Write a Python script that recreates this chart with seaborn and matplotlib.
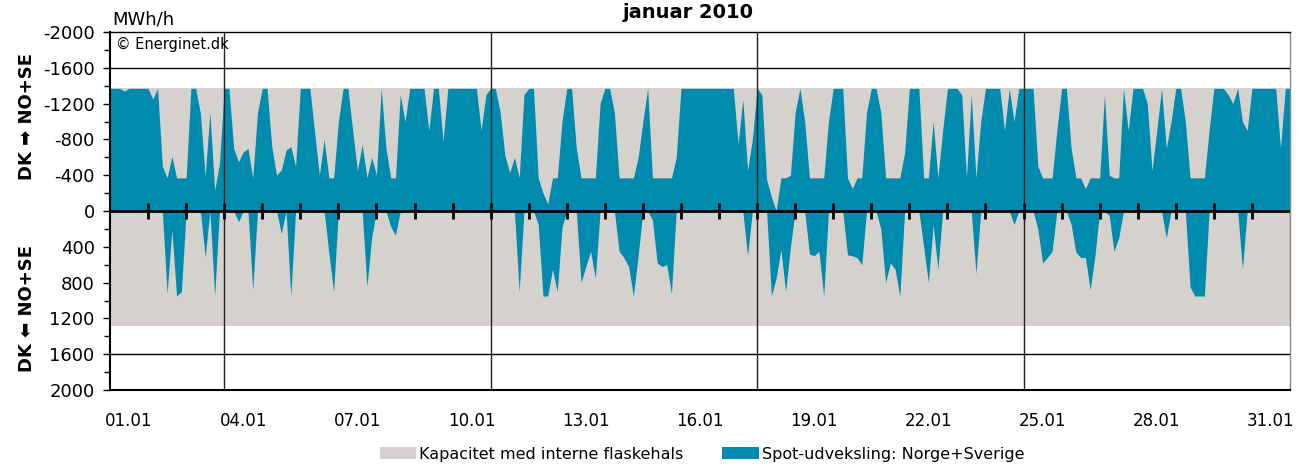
import numpy as np
import pandas as pd
import matplotlib
matplotlib.use("Agg")
import matplotlib.pyplot as plt
from matplotlib.patches import Patch
from matplotlib.ticker import MultipleLocator
import seaborn as sns


# ==========================================================
# DATA
# ==========================================================

TITLE = "januar 2010"
UNIT = "MWh/h"
SOURCE = "\u00a9 Energinet.dk"

# capacity including internal bottlenecks (MWh/h), export negative
CAP_EXPORT = -1370
CAP_IMPORT = 1290

# spot exchange DK <-> Norway+Sweden, one value every 3 hours (8 per day)
SAMPLE_HOURS = 3
export_mw = [
    -1370, -1370, -1370, -1340, -1370, -1370, -1370, -1370,  # 01.01
    -1370, -1250, -1370, -500, -370, -610, -370, -370,        # 02.01
    -370, -1370, -1370, -1090, -390, -1100, -230, -530,       # 03.01
    -1370, -1370, -700, -550, -660, -700, -370, -1100,        # 04.01
    -1370, -1370, -720, -400, -460, -680, -720, -500,         # 05.01
    -1370, -1370, -1370, -880, -400, -800, -370, -370,        # 06.01
    -1000, -1370, -1370, -900, -450, -740, -370, -600,        # 07.01
    -400, -1370, -700, -370, -370, -1300, -1000, -1370,       # 08.01
    -1370, -1370, -1370, -900, -1370, -1370, -780, -1370,     # 09.01
    -1370, -1370, -1370, -1370, -1370, -1370, -900, -1300,    # 10.01
    -1370, -1370, -1100, -620, -430, -600, -370, -1300,       # 11.01
    -1370, -1370, -370, -200, -80, -370, -370, -1000,         # 12.01
    -1370, -1370, -700, -370, -370, -370, -370, -1200,        # 13.01
    -1370, -1370, -1100, -370, -370, -370, -370, -600,        # 14.01
    -1000, -1370, -370, -370, -370, -370, -370, -600,         # 15.01
    -1370, -1370, -1370, -1370, -1370, -1370, -1370, -1370,   # 16.01
    -1370, -1370, -1370, -1370, -750, -1250, -450, -800,      # 17.01
    -1370, -1300, -350, -160, 0, -370, -370, -400,            # 18.01
    -1100, -1370, -1000, -370, -370, -370, -370, -1000,       # 19.01
    -1370, -1370, -1370, -370, -250, -370, -370, -1100,       # 20.01
    -1370, -1370, -1100, -370, -370, -370, -370, -650,        # 21.01
    -1370, -1370, -1370, -370, -370, -1000, -370, -900,       # 22.01
    -1370, -1370, -1370, -1300, -370, -1300, -370, -1000,     # 23.01
    -1370, -1370, -1370, -1370, -900, -1370, -1000, -1370,    # 24.01
    -1370, -1370, -1370, -500, -370, -370, -370, -900,        # 25.01
    -1370, -1370, -700, -370, -370, -250, -370, -370,         # 26.01
    -370, -1300, -400, -370, -370, -1370, -900, -1370,        # 27.01
    -1370, -1370, -1200, -450, -900, -1370, -700, -1000,      # 28.01
    -1370, -1370, -1000, -370, -370, -370, -370, -900,        # 29.01
    -1370, -1370, -1370, -1300, -1200, -1370, -1000, -900,    # 30.01
    -1370, -1370, -1370, -1370, -1370, -1370, -700, -1370,    # 31.01
    -1370,
]
import_mw = [
    0, 0, 0, 0, 0, 0, 0, 0,              # 01.01
    0, 0, 0, 0, 920, 210, 950, 900,      # 02.01
    0, 0, 0, 0, 510, 0, 950, 0,          # 03.01
    0, 0, 0, 120, 0, 0, 880, 0,          # 04.01
    0, 0, 0, 0, 250, 0, 950, 0,          # 05.01
    0, 0, 0, 0, 0, 0, 470, 900,          # 06.01
    0, 0, 0, 0, 0, 0, 845, 290,          # 07.01
    0, 0, 0, 175, 270, 0, 0, 0,          # 08.01
    0, 0, 0, 0, 0, 0, 0, 0,              # 09.01
    0, 0, 0, 0, 0, 0, 0, 0,              # 10.01
    0, 0, 0, 0, 0, 0, 900, 0,            # 11.01
    0, 0, 150, 950, 950, 650, 900, 180,  # 12.01
    0, 0, 0, 800, 620, 450, 750, 0,      # 13.01
    0, 0, 0, 450, 520, 620, 950, 500,    # 14.01
    0, 0, 100, 580, 620, 600, 920, 0,    # 15.01
    0, 0, 0, 0, 0, 0, 0, 0,              # 16.01
    0, 0, 0, 0, 0, 0, 500, 0,            # 17.01
    0, 0, 0, 950, 750, 430, 900, 400,    # 18.01
    0, 0, 0, 480, 500, 450, 950, 0,      # 19.01
    0, 0, 0, 490, 500, 520, 600, 0,      # 20.01
    0, 0, 200, 800, 580, 650, 950, 0,    # 21.01
    0, 0, 0, 400, 800, 150, 650, 0,      # 22.01
    0, 0, 0, 0, 0, 0, 700, 0,            # 23.01
    0, 0, 0, 0, 0, 0, 150, 0,            # 24.01
    0, 0, 0, 200, 580, 520, 450, 0,      # 25.01
    0, 0, 150, 460, 520, 520, 880, 500,  # 26.01
    0, 0, 50, 450, 300, 0, 0, 0,         # 27.01
    0, 0, 0, 0, 0, 0, 300, 0,            # 28.01
    0, 0, 0, 850, 950, 950, 950, 0,      # 29.01
    0, 0, 0, 0, 0, 0, 650, 0,            # 30.01
    0, 0, 0, 0, 0, 0, 0, 0,              # 31.01
    0,
]

N_DAYS = 31
LABEL_DAYS = [1, 4, 7, 10, 13, 16, 19, 22, 25, 28, 31]
DAY_LABELS = ["01.01", "04.01", "07.01", "10.01", "13.01", "16.01",
              "19.01", "22.01", "25.01", "28.01", "31.01"]
WEEK_START_DAYS = [4, 11, 18, 25]   # mondays

Y_TICKS = [-2000, -1600, -1200, -800, -400, 0, 400, 800, 1200, 1600, 2000]
Y_TICK_LABELS = ["-2000", "-1600", "-1200", "-800", "-400", "0",
                 "400", "800", "1200", "1600", "2000"]

LEGEND_LABELS = ["Kapacitet med interne flaskehals",
                 "Spot-udveksling: Norge+Sverige"]

COLOR_CAP = "#D5D1CC"
COLOR_SPOT = "#008AAE"


# ==========================================================
# PLOT
# ==========================================================

sns.set_style("white")
plt.rcParams["font.family"] = ["DejaVu Sans"]
plt.rcParams["axes.unicode_minus"] = False
plt.rcParams["text.color"] = "black"
plt.rcParams["xtick.color"] = "black"
plt.rcParams["ytick.color"] = "black"

df = pd.DataFrame({"export": export_mw, "import": import_mw})
df["hour"] = np.arange(len(df)) * SAMPLE_HOURS
total_hours = N_DAYS * 24

fig = plt.figure(figsize=(13.01, 4.67), dpi=100)
ax = fig.add_axes([110 / 1301, 1 - 390 / 467, 1180 / 1301, 358 / 467])

# capacity band
ax.fill_between([0, total_hours], CAP_EXPORT, CAP_IMPORT,
                color=COLOR_CAP, lw=0, zorder=1)

# spot exchange areas
ax.fill_between(df["hour"], 0, df["export"], color=COLOR_SPOT, lw=0, zorder=2)
ax.fill_between(df["hour"], 0, df["import"], color=COLOR_SPOT, lw=0, zorder=2)

# grid lines at +-1600 and monday lines
for yv in (-1600, 1600):
    ax.axhline(yv, color="black", lw=1.0, zorder=3)
for d in WEEK_START_DAYS:
    ax.axvline((d - 1) * 24, color="#222222", lw=1.0, zorder=3)

# zero line with day ticks
ax.axhline(0, color="black", lw=2.0, zorder=4)
day_edges = np.arange(1, N_DAYS) * 24
ax.plot(day_edges, np.zeros(len(day_edges)), ls="none", marker="|",
        ms=12, mew=2.0, color="black", zorder=5)

ax.set_xlim(0, total_hours)
ax.set_ylim(2000, -2000)

ax.set_yticks(Y_TICKS)
ax.set_yticklabels(Y_TICK_LABELS, fontsize=13)
ax.yaxis.set_minor_locator(MultipleLocator(200))
ax.tick_params(axis="y", which="major", direction="out", length=5,
               width=1, pad=6, left=True, color="black", labelcolor="black")
ax.tick_params(axis="y", which="minor", direction="out", length=4,
               width=1, left=True, color="black")

ax.set_xticks([(d - 1) * 24 + 12 for d in LABEL_DAYS])
ax.set_xticklabels(DAY_LABELS, fontsize=12)
ax.tick_params(axis="x", length=0, pad=16, labelcolor="black")

for side in ("left", "bottom", "top"):
    ax.spines[side].set_color("black")
ax.spines["left"].set_linewidth(1.5)
ax.spines["bottom"].set_linewidth(1.5)
ax.spines["top"].set_linewidth(1.0)
ax.spines["right"].set_color("#888888")
ax.spines["right"].set_linewidth(1.0)

# texts
fig.text(688 / 1301, 1 - 13 / 467, TITLE, ha="center", va="center",
         fontsize=14, fontweight="bold", color="black")
fig.text(112 / 1301, 1 - 19 / 467, UNIT, ha="left", va="center",
         fontsize=13, color="black")
ax.text(0.005, 0.985, SOURCE, transform=ax.transAxes, ha="left", va="top",
        fontsize=10.5, color="black")
fig.text(27 / 1301, 1 - 117 / 467, "DK \u27A1 NO+SE", rotation=90,
         ha="center", va="center", fontsize=13, fontweight="bold",
         color="black")
fig.text(27 / 1301, 1 - 308 / 467, "DK \u2B05 NO+SE", rotation=90,
         ha="center", va="center", fontsize=13, fontweight="bold",
         color="black")

handles = [Patch(color=COLOR_CAP, lw=0), Patch(color=COLOR_SPOT, lw=0)]
fig.legend(handles, LEGEND_LABELS, loc="center", ncol=2,
           bbox_to_anchor=(702 / 1301, 1 - 454 / 467), frameon=False,
           fontsize=11.5, handlelength=2.3, handleheight=0.85,
           handletextpad=0.2, columnspacing=2.4, labelcolor="black")

fig.savefig("out.png", dpi=100)
